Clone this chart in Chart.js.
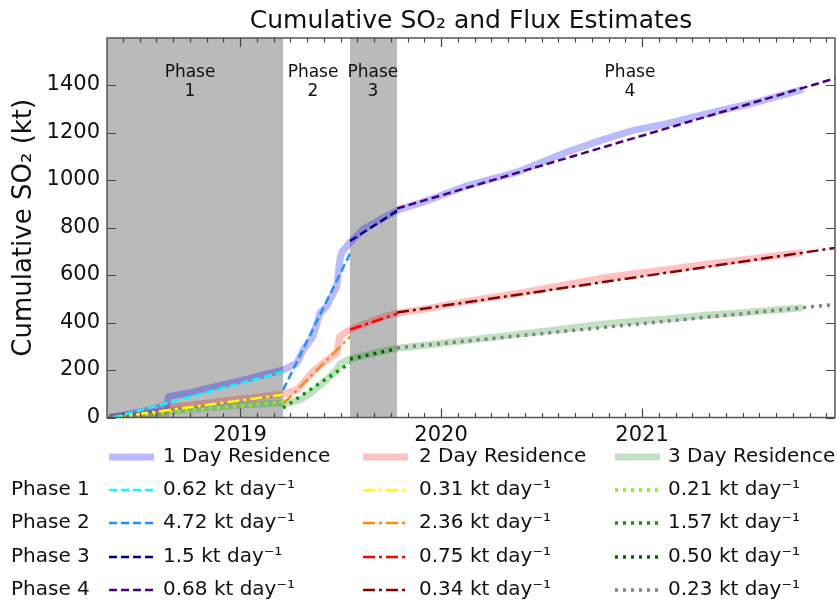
<!DOCTYPE html>
<html>
<head>
<meta charset="utf-8">
<script src="https://cdn.jsdelivr.net/npm/chart.js@4.4.1/dist/chart.umd.min.js"></script>
<style>
  html, body { margin: 0; padding: 0; background: #fff; }
  canvas { display: block; }
</style>
</head>
<body>
<canvas id="so2Chart" width="837" height="601"></canvas>
<script>
// x values are decimal years
const xMin = 2018.338;
const xMax = 2021.96;
const phaseEdges = [xMin, 2019.214, 2019.547, 2019.781, xMax];
const phaseNames = ['1', '2', '3', '4'];
const phaseLabelAt = [2018.751, 2019.363, 2019.661, 2020.94];
const yearTicks = [2019, 2020, 2021];
const yTicks = [0, 200, 400, 600, 800, 1000, 1200, 1400];

// cumulative SO2 (kt), one series per residence time
const res1Time = [2018.35, 2018.45, 2018.55, 2018.635, 2018.645, 2018.75, 2018.85, 2018.95, 2019.05, 2019.12, 2019.214,
  2019.282, 2019.315, 2019.363, 2019.398, 2019.431, 2019.481, 2019.497, 2019.506, 2019.547,
  2019.612, 2019.73, 2019.796, 2019.91, 2020.129, 2020.378, 2020.627, 2020.791, 2020.955, 2021.124, 2021.288, 2021.537, 2021.786, 2021.80];
const res1Kt = [0, 15, 32, 52, 88, 105, 125, 145, 165, 180, 200,
  229, 285, 342, 441, 468, 553, 666, 695, 737,
  792, 849, 877, 907, 976, 1033, 1118, 1166, 1209, 1237, 1272, 1321, 1378, 1385];

const res2Time = [2018.35, 2018.45, 2018.55, 2018.635, 2018.645, 2018.75, 2018.9, 2019.05, 2019.214,
  2019.282, 2019.363, 2019.413, 2019.481, 2019.497, 2019.547,
  2019.612, 2019.70, 2019.781, 2019.91, 2020.13, 2020.38, 2020.63, 2020.79, 2020.96, 2021.12, 2021.29, 2021.54, 2021.80];
const res2Kt = [0, 8, 18, 27, 42, 52, 68, 82, 99,
  116, 194, 230, 272, 342, 370,
  392, 420, 440, 455, 490, 522, 560, 585, 605, 622, 642, 668, 695];

const res3Time = [2018.35, 2018.45, 2018.55, 2018.635, 2018.645, 2018.75, 2018.9, 2019.05, 2019.214,
  2019.24, 2019.30, 2019.363, 2019.431, 2019.481, 2019.497, 2019.547,
  2019.62, 2019.70, 2019.781, 2019.91, 2020.13, 2020.38, 2020.63, 2020.79, 2020.96, 2021.12, 2021.29, 2021.54, 2021.80];
const res3Kt = [0, 5, 12, 18, 28, 35, 45, 55, 62,
  62, 75, 110, 160, 200, 225, 247,
  262, 278, 292, 303, 325, 350, 375, 392, 405, 415, 428, 444, 462];

// linear fits per phase: start/end time and start/end value
const fitStartTime = [2018.37, 2019.214, 2019.547, 2019.781];
const fitEndTime = [2019.214, 2019.547, 2019.781, xMax];
const fit1Start = [0, 116, 743, 880];
const fit1End = [192, 690, 870, 1428];
const fit2Start = [0, 57, 370, 442];
const fit2End = [96, 340, 437, 714];
const fit3Start = [0, 40, 246, 293];
const fit3End = [65, 230, 290, 476];

// flux rates shown in the legend (kt/day)
const rate1 = ['0.62', '4.72', '1.5', '0.68'];
const rate2 = ['0.31', '2.36', '0.75', '0.34'];
const rate3 = ['0.21', '1.57', '0.50', '0.23'];
const residenceNames = ['1 Day Residence', '2 Day Residence', '3 Day Residence'];

// styles
const resColors = ['rgba(0,0,255,0.27)', 'rgba(255,0,0,0.24)', 'rgba(0,128,0,0.24)'];
const fitColors = [
  ['#00ffff', '#ffff00', '#7cfc00'],
  ['#1e90ff', '#ff8c00', '#00a000'],
  ['#00008b', '#ff0000', '#006400'],
  ['#4b0082', '#8b0000', '#808080']
];
const fitDash = [[8, 4], [12, 4, 3, 4], [3, 5]];
const fitWidth = [2.5, 2.5, 3.5];

const FONT = '"DejaVu Sans", "Liberation Sans", sans-serif';

const zip = (xs, ys) => xs.map((t, i) => ({ x: t, y: ys[i] }));

const datasets = [];
[[res1Time, res1Kt], [res2Time, res2Kt], [res3Time, res3Kt]].forEach(([t, v], c) => {
  datasets.push({
    label: residenceNames[c],
    data: zip(t, v),
    borderColor: resColors[c],
    borderWidth: 7,
    pointRadius: 0,
    order: 2
  });
});
const fitStarts = [fit1Start, fit2Start, fit3Start];
const fitEnds = [fit1End, fit2End, fit3End];
for (let p = 0; p < 4; p++) {
  for (let c = 0; c < 3; c++) {
    datasets.push({
      label: 'Phase ' + (p + 1) + ' fit ' + (c + 1),
      data: [
        { x: fitStartTime[p], y: fitStarts[c][p] },
        { x: fitEndTime[p], y: fitEnds[c][p] }
      ],
      borderColor: fitColors[p][c],
      borderWidth: fitWidth[c],
      borderDash: fitDash[c],
      pointRadius: 0,
      order: 1
    });
  }
}

const framePlugin = {
  id: 'frame',
  beforeDatasetsDraw(chart) {
    const { ctx, chartArea: a, scales: { x } } = chart;
    ctx.save();
    ctx.fillStyle = '#bababa';
    [0, 2].forEach(i => {
      const x0 = x.getPixelForValue(phaseEdges[i]);
      const x1 = x.getPixelForValue(phaseEdges[i + 1]);
      ctx.fillRect(x0, a.top, x1 - x0, a.bottom - a.top);
    });
    ctx.fillStyle = '#111';
    ctx.font = '17px ' + FONT;
    ctx.textAlign = 'center';
    ctx.textBaseline = 'middle';
    phaseNames.forEach((n, i) => {
      const px = x.getPixelForValue(phaseLabelAt[i]);
      ctx.fillText('Phase', px, a.top + 35);
      ctx.fillText(n, px, a.top + 54);
    });
    ctx.restore();
  },
  afterDatasetsDraw(chart) {
    const { ctx, chartArea: a, scales: { x, y } } = chart;
    ctx.save();
    ctx.strokeStyle = '#444';
    ctx.lineWidth = 1.2;
    ctx.beginPath();
    yTicks.forEach(v => {
      const py = Math.round(y.getPixelForValue(v)) + 0.5;
      ctx.moveTo(a.left, py); ctx.lineTo(a.left + 9, py);
      ctx.moveTo(a.right, py); ctx.lineTo(a.right - 9, py);
    });
    for (let m = Math.ceil(xMin * 12); m <= Math.floor(xMax * 12); m++) {
      const len = m % 12 === 0 ? 9 : 4.5;
      const px = Math.round(x.getPixelForValue(m / 12)) + 0.5;
      ctx.moveTo(px, a.bottom); ctx.lineTo(px, a.bottom - len);
      ctx.moveTo(px, a.top); ctx.lineTo(px, a.top + len);
    }
    ctx.stroke();
    ctx.strokeStyle = '#555';
    ctx.lineWidth = 1.5;
    ctx.strokeRect(a.left, a.top, a.right - a.left, a.bottom - a.top);
    ctx.restore();
  },
  afterDraw(chart) {
    const { ctx } = chart;
    const sampleX = [109, 363, 615];
    const textX = [163, 419, 668];
    const rowY = [457, 490, 523, 557, 590];
    const rates = [rate1, rate2, rate3];
    ctx.save();
    ctx.font = '20px ' + FONT;
    ctx.textBaseline = 'middle';
    ctx.textAlign = 'left';
    ctx.fillStyle = '#111';
    ctx.lineCap = 'butt';
    for (let c = 0; c < 3; c++) {
      const ds = chart.data.datasets[c];
      ctx.strokeStyle = ds.borderColor;
      ctx.lineWidth = ds.borderWidth;
      ctx.setLineDash([]);
      ctx.beginPath();
      ctx.moveTo(sampleX[c], rowY[0]); ctx.lineTo(sampleX[c] + 45, rowY[0]);
      ctx.stroke();
      ctx.fillText(residenceNames[c], textX[c], rowY[0]);
    }
    for (let p = 0; p < 4; p++) {
      const ry = rowY[p + 1];
      ctx.fillText('Phase ' + phaseNames[p], 11, ry);
      for (let c = 0; c < 3; c++) {
        const ds = chart.data.datasets[3 + p * 3 + c];
        ctx.strokeStyle = ds.borderColor;
        ctx.lineWidth = ds.borderWidth;
        ctx.setLineDash(ds.borderDash);
        ctx.beginPath();
        ctx.moveTo(sampleX[c], ry); ctx.lineTo(sampleX[c] + 45, ry);
        ctx.stroke();
        ctx.fillText(rates[c][p] + ' kt day\u207B\u00B9', textX[c], ry);
      }
    }
    ctx.restore();
  }
};

Chart.defaults.font.family = FONT;
Chart.defaults.color = '#111';

new Chart(document.getElementById('so2Chart'), {
  type: 'line',
  data: { datasets },
  options: {
    responsive: false,
    animation: false,
    devicePixelRatio: 1,
    layout: { padding: { left: 0, right: 2, top: 0, bottom: 0 } },
    plugins: {
      legend: { display: false },
      tooltip: { enabled: false },
      title: {
        display: true,
        fullSize: false,
        text: 'Cumulative SO\u2082 and Flux Estimates',
        font: { size: 25, weight: 'normal' },
        color: '#111',
        padding: { top: 6, bottom: 2 }
      }
    },
    scales: {
      x: {
        type: 'linear',
        min: xMin,
        max: xMax,
        grid: { display: false, drawTicks: false },
        border: { display: false },
        afterBuildTicks: s => { s.ticks = yearTicks.map(v => ({ value: v })); },
        afterFit: s => { s.height = 601 - 417.5; },
        ticks: { padding: 5, maxRotation: 0, autoSkip: false, font: { size: 21 }, callback: v => String(v) }
      },
      y: {
        min: 0,
        max: 1598,
        grid: { display: false, drawTicks: false },
        border: { display: false },
        afterBuildTicks: s => { s.ticks = yTicks.map(v => ({ value: v })); },
        afterFit: s => { s.width = 107; },
        ticks: { padding: 7, font: { size: 21 }, callback: v => String(v) },
        title: {
          display: true,
          text: 'Cumulative SO\u2082 (kt)',
          font: { size: 26 },
          padding: { top: 9, bottom: 0 }
        }
      }
    }
  },
  plugins: [framePlugin]
});
</script>
</body>
</html>
